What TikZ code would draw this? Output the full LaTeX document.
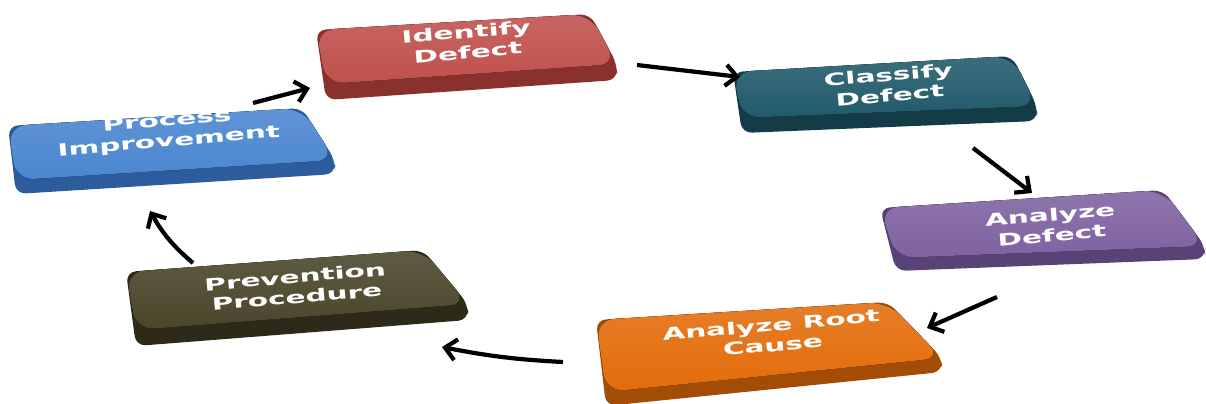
\documentclass[tikz,border=0pt]{standalone}
\usepackage{fontspec}
\setmainfont{DejaVu Sans}
\usepackage{tikz}
\usetikzlibrary{arrows.meta, calc}

\definecolor{idftop}{HTML}{C0504D}
\definecolor{idfside}{HTML}{8A302D}
\definecolor{clstop}{HTML}{215A6B}
\definecolor{clsside}{HTML}{133C47}
\definecolor{anltop}{HTML}{7F62A1}
\definecolor{anlside}{HTML}{594376}
\definecolor{rcatop}{HTML}{E36C0A}
\definecolor{rcaside}{HTML}{A34C05}
\definecolor{prvtop}{HTML}{4A452A}
\definecolor{prvside}{HTML}{2D2A19}
\definecolor{pimtop}{HTML}{4A86D0}
\definecolor{pimside}{HTML}{2C5C9C}

% corners TL TR BR BL, colour prefix, thickness
\newcommand{\plate}[6]{%
	\fill[#5side, rounded corners=7pt] #1 -- ($#4+(0,#6)$) -- ($#3+(0,#6)$) -- #3 -- #2 -- cycle;
	\fill[top color=#5top!88!white, bottom color=#5top, rounded corners=13pt] #1 -- #2 -- #3 -- #4 -- cycle;
}

\begin{document}
\begin{tikzpicture}[x=0.025cm, y=-0.025cm,
	platetext/.style={text=white, align=center, font=\fontsize{12}{14.5}\selectfont\bfseries, rotate=5, xscale=1.75, inner sep=0pt},
	post/.style={line width=3pt, -{Straight Barb[length=8pt, width=15pt, line width=3pt]}}]

	\useasboundingbox (0,0) rectangle (1206,403);

	\plate{(316,30)}{(590,14)}{(617,64)}{(326,84)}{idf}{16}
	\plate{(733,72)}{(1012,56)}{(1037,106)}{(742,118)}{cls}{15}
	\plate{(880,208)}{(1163,190)}{(1205,246)}{(896,258)}{anl}{13}
	\plate{(596,320)}{(888,302)}{(942,358)}{(606,392)}{rca}{14}
	\plate{(126,272)}{(423,250)}{(468,304)}{(136,330)}{prv}{16}
	\plate{(8,126)}{(302,108)}{(335,160)}{(16,180)}{pim}{14}

	\node (IDF) [platetext] at (467,42) {Identify\\Defect};
	\node (CLS) [platetext] at (889,85) {Classify\\Defect};
	\node (ANL) [platetext] at (1051,225) {Analyze\\Defect};
	\node (RCA) [platetext] at (772,335) {Analyze Root\\Cause};
	\node (PRV) [platetext] at (296,287) {Prevention\\Procedure};
	\node (PIM) [platetext] at (168,132) {Process\\Improvement};

	\coordinate (IDF-out) at (637,65);
	\coordinate (CLS-in) at (740,77);
	\coordinate (CLS-out) at (973,148);
	\coordinate (ANL-in) at (1032,193);
	\coordinate (ANL-out) at (997,297);
	\coordinate (RCA-in) at (927,328);
	\coordinate (RCA-out) at (563,362);
	\coordinate (PRV-in) at (442,347);
	\coordinate (PRV-out) at (193,263);
	\coordinate (PIM-in) at (150,211);
	\coordinate (PIM-out) at (253,103);
	\coordinate (IDF-in) at (310,88);

	\draw[post] (IDF-out) -- (CLS-in);
	\draw[post] (CLS-out) -- (ANL-in);
	\draw[post] (ANL-out) -- (RCA-in);
	\draw[post] (RCA-out) to [bend left=4] (PRV-in);
	\draw[post] (PRV-out) to [bend left=10] (PIM-in);
	\draw[post] (PIM-out) -- (IDF-in);

\end{tikzpicture}
\end{document}
